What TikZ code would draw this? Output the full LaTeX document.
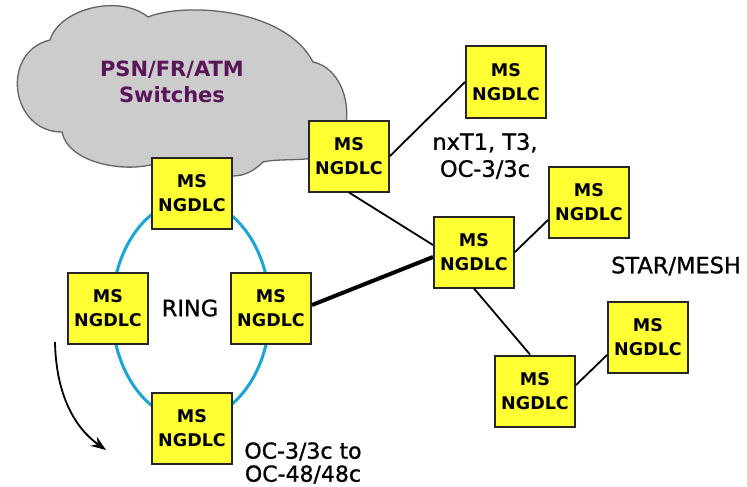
\documentclass[tikz,border=0pt]{standalone}
\usepackage{fontspec}
\setmainfont{DejaVu Sans}
\newfontfamily\tagfont[FakeBold=1]{DejaVu Sans}
\usepackage{tikz}
\usetikzlibrary{arrows.meta, positioning}
\definecolor{msyellow}{RGB}{255,255,51}
\definecolor{ringblue}{RGB}{25,165,215}
\definecolor{cloudgray}{RGB}{204,204,204}
\definecolor{cloudedge}{RGB}{100,100,100}
\definecolor{cloudtext}{RGB}{90,20,90}
\tikzset{ngdlc/.style={draw=black!85, line width=2pt, fill=msyellow, minimum width=80pt, minimum height=71pt, inner sep=0pt, align=center, font=\bfseries\fontsize{17.5}{24}\selectfont},
  tag/.style={align=center, font=\tagfont\fontsize{22.5}{27}\selectfont},
  link/.style={line width=1.8pt}}

\begin{document}
\begin{tikzpicture}[x=1pt, y=-1pt]
            \useasboundingbox (0,0) rectangle (747,487);
            % cloud
            \draw[fill=cloudgray, draw=cloudedge, line width=1.3pt] (62,132) .. controls (10,132) and (0,52) .. (50,40)
              .. controls (60,8) and (120,-6) .. (148,17) .. controls (185,2) and (285,8) .. (313,62)
              .. controls (350,70) and (358,132) .. (330,155) .. controls (305,162) and (280,158) .. (263,162)
              .. controls (255,170) and (245,176) .. (233,176) -- (150,165) .. controls (120,172) and (68,162) .. cycle;
            \node[text=cloudtext, font=\bfseries\fontsize{21}{26}\selectfont, align=center] (switches) at (172,82) {PSN/FR/ATM\\Switches};
            % ring
            \draw[ringblue, line width=3pt] (191,310) ellipse [x radius=79pt, y radius=110pt];
            \node[ngdlc] (ring_top) at (192,193) {MS\\NGDLC};
            \node[ngdlc] (ring_left) at (108,308) {MS\\NGDLC};
            \node[ngdlc] (ring_right) at (271,308) {MS\\NGDLC};
            \node[ngdlc] (ring_bot) at (192,428) {MS\\NGDLC};
            \node[tag] (ring_lbl) at (190,308) {RING};
            \coordinate (turn_from) at (55,342);
            \coordinate (turn_to) at (106,450);
            \draw[line width=1.8pt, -{Stealth[length=15pt, width=11pt]}] (turn_from) .. controls (56,395) and (75,428) .. (turn_to);
            % star/mesh
            \node[ngdlc] (gateway) at (349,156) {MS\\NGDLC};
            \node[ngdlc] (top_right) at (506,82) {MS\\NGDLC};
            \node[ngdlc] (hub) at (474,252) {MS\\NGDLC};
            \node[ngdlc] (right_up) at (589,202) {MS\\NGDLC};
            \node[ngdlc] (right_low) at (648,337) {MS\\NGDLC};
            \node[ngdlc] (bottom_mid) at (535,391) {MS\\NGDLC};
            \draw[link] (gateway.east) -- (top_right.west);
            \draw[link] (gateway.south) -- ([yshift=7pt]hub.west);
            \draw[line width=4pt] ([yshift=3pt]ring_right.east) -- ([yshift=-5pt]hub.west);
            \draw[link] (hub.east) -- ([yshift=-18pt]right_up.west);
            \draw[link] (hub.south) -- ([xshift=-5pt]bottom_mid.north);
            \draw[link] ([yshift=6pt]bottom_mid.east) -- ([yshift=-18pt]right_low.west);
            \node[tag] (tdm_lbl) at (485,156) {nxT1, T3,\\OC-3/3c};
            \node[tag] (star_lbl) at (676,266) {STAR/MESH};
            \node[tag, font=\tagfont\fontsize{22}{23}\selectfont] (oc_lbl) at (303,463) {OC-3/3c to\\OC-48/48c};
      \end{tikzpicture}
\end{document}
